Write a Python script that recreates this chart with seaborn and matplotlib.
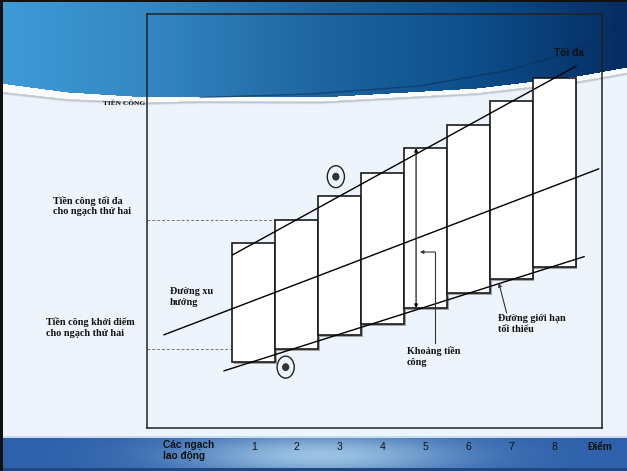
import numpy as np
import matplotlib
matplotlib.use("Agg")
import matplotlib.pyplot as plt
import matplotlib.patheffects as pe
from matplotlib.patches import Ellipse
import seaborn as sns

# ---- data -------------------------------------------------------------
grades = [1, 2, 3, 4, 5, 6, 7, 8]
tick_labels = ["1", "2", "3", "4", "5", "6", "7", "8"]
grade_max = [44.7, 50.2, 56.0, 61.7, 67.6, 73.2, 79.0, 84.6]   # top of each pay range
grade_min = [15.9, 19.1, 22.5, 25.1, 29.0, 32.6, 36.0, 38.9]   # starting pay of each grade

max_line_x = [0.50, 8.51]
max_line_y = [41.8, 87.4]
trend_line_x = [-1.10, 9.04]
trend_line_y = [22.5, 62.6]
min_line_x = [0.30, 8.70]
min_line_y = [13.8, 41.4]

# ---- style ------------------------------------------------------------
sns.set_theme(style="white")
plt.rcParams["font.family"] = ["Liberation Sans", "DejaVu Sans"]

W, H = 627, 471
fig = plt.figure(figsize=(W / 100, H / 100), dpi=100)


def P(x, y):
    """pixel position (from top-left) -> figure fraction"""
    return x / W, 1 - y / H


def hexrgb(h):
    h = h.lstrip("#")
    return np.array([int(h[i:i + 2], 16) / 255 for i in (0, 2, 4)])


# ---- slide background -------------------------------------------------
yy, xx = np.mgrid[0:H, 0:W].astype(float)
img = np.ones((H, W, 3)) * hexrgb("#eef4fb")

# top swoosh
curve = np.interp(xx[0], [0, 67, 147, 320, 477, 577, 627], [83, 92, 97, 97, 88, 76, 67])
stops_x = [0, 147, 320, 470, 627]
stops_c = [hexrgb(c) for c in ["#3d9bd7", "#3487c2", "#1e65a0", "#0d4f8b", "#062c63"]]
grad = np.stack([np.interp(xx[0], stops_x, [c[k] for c in stops_c]) for k in range(3)], axis=-1)
d = yy - curve[None, :]
blue = d < 0
img[blue] = np.broadcast_to(grad[None, :, :], (H, W, 3))[blue]
thick = np.interp(xx[0], [0, 200, 627], [8, 3.5, 5])[None, :]
white = (d >= 0) & (d < thick)
img[white] = hexrgb("#fafbfc")
shade = np.exp(-((d - thick - 1.2) / 1.3) ** 2) * (d >= thick) * 0.55
img = img * (1 - shade[..., None]) + hexrgb("#9aa1aa") * shade[..., None]

# bottom band with a soft glow
band = yy >= 436
glow = np.exp(-((xx - 320) / 140) ** 2 - ((yy - 455) / 22) ** 2) * 0.85
band_col = hexrgb("#2e61ab") * (1 - glow[..., None]) + hexrgb("#aed3ec") * glow[..., None]
img[band] = band_col[band]
img[(yy >= 436) & (yy < 437.5)] = hexrgb("#c9dcef")
img[yy >= 468] = hexrgb("#23477e")

# slide border
img[:, :3] = hexrgb("#111111")
img[:2, :] = hexrgb("#111111")

bg = fig.add_axes([0, 0, 1, 1], zorder=0)
bg.imshow(img, extent=[0, W, H, 0], aspect="auto", interpolation="bilinear")
arc_x = [200, 310, 420, 510, 560, 600, 627]
arc_y = [97.5, 94, 86, 70, 55, 38, 22]
bg.plot(arc_x, arc_y, color="#0a2c55", lw=1.0, alpha=0.55)
bg.set_xlim(0, W)
bg.set_ylim(H, 0)
bg.axis("off")

# ---- chart ------------------------------------------------------------
left, right, top, bottom = 147, 602, 14, 428
ax = fig.add_axes([left / W, 1 - bottom / H, (right - left) / W, (bottom - top) / H], zorder=2)
ax.set_facecolor("none")
xmin, xmax = -1.492, 9.114
ax.set_xlim(xmin, xmax)
ax.set_ylim(0, 100)

# guide lines for grade 2
ax.plot([xmin, 1.5], [grade_max[1]] * 2, ls=(0, (3, 2)), color="#777777", lw=0.7, zorder=1)
ax.plot([xmin, 1.5], [grade_min[1]] * 2, ls=(0, (3, 2)), color="#777777", lw=0.7, zorder=1)

heights = [a - b for a, b in zip(grade_max, grade_min)]
ax.bar(grades, heights, bottom=grade_min, width=1.0, color="white",
       edgecolor="#1a1a1a", linewidth=1.2, zorder=2,
       path_effects=[pe.SimplePatchShadow(offset=(1.2, -1.2), shadow_rgbFace="#7f7f7f", alpha=0.7),
                     pe.Normal()])

for lx, ly in [(max_line_x, max_line_y), (trend_line_x, trend_line_y), (min_line_x, min_line_y)]:
    sns.lineplot(x=lx, y=ly, color="black", lw=1.0, ax=ax, sort=False, zorder=4)

# pay range of grade 5
ax.annotate("", xy=(4.78, grade_min[4]), xytext=(4.78, grade_max[4]),
            arrowprops=dict(arrowstyle="<|-|>", lw=0.8, color="black", mutation_scale=5,
                            shrinkA=0, shrinkB=0), zorder=5)
ax.plot([5.22, 5.22], [20.5, 42.5], color="#333333", lw=0.8, zorder=5)
ax.annotate("", xy=(4.87, 42.5), xytext=(5.22, 42.5),
            arrowprops=dict(arrowstyle="-|>", lw=0.8, color="#333333", mutation_scale=5,
                            shrinkA=0, shrinkB=0), zorder=5)
ax.annotate("", xy=(6.71, 35.0), xytext=(6.89, 27.8),
            arrowprops=dict(arrowstyle="-|>", lw=0.8, color="#333333", mutation_scale=5,
                            shrinkA=0, shrinkB=0), zorder=5)

# circled markers
for cx, cy in [(2.91, 60.7), (1.74, 14.7)]:
    ax.add_patch(Ellipse((cx, cy), 0.40, 5.3, fill=False, ec="#222222", lw=1.0, zorder=5))
    ax.add_patch(Ellipse((cx, cy), 0.17, 1.9, fc="#333333", ec="none", zorder=5))

ax.set_xticks(grades)
ax.set_xticklabels(tick_labels, fontsize=7.5, color="#111111")
ax.set_yticks([])
ax.tick_params(axis="x", length=0, pad=10)
ax.set_xlabel("")
ax.set_ylabel("")
for s in ax.spines.values():
    s.set_visible(True)
    s.set_color("#222222")
    s.set_linewidth(1.1)

# ---- labels -------------------------------------------------------------
serif = dict(family=["Liberation Serif", "DejaVu Serif"], weight="bold", fontsize=7.3,
             color="#111111", va="center", ha="left", linespacing=1.15)
fig.text(*P(103, 103.5), "TIỀN CÔNG", **{**serif, "fontsize": 5.3})
fig.text(*P(53, 206), "Tiền công tối đa\ncho ngạch thứ hai", **serif)
fig.text(*P(46, 327.5), "Tiền công khởi điểm\ncho ngạch thứ hai", **serif)
fig.text(*P(170, 297), "Đường xu\nhướng", **serif)
fig.text(*P(407, 356.5), "Khoảng tiền\ncông", **serif)
fig.text(*P(498, 324), "Đường giới hạn\ntối thiểu", **serif)

sans_b = dict(family=["Liberation Sans", "DejaVu Sans"], weight="bold", color="#111111",
              va="center")
fig.text(*P(569, 53), "Tối đa", fontsize=7.3, ha="center", **sans_b)
fig.text(*P(163, 450.5), "Các ngạch\nlao động", fontsize=7.3, ha="left", linespacing=1.05, **sans_b)
fig.text(*P(600, 447), "Điểm", fontsize=7.3, ha="center", **sans_b)

fig.savefig("out.png", dpi=100)
